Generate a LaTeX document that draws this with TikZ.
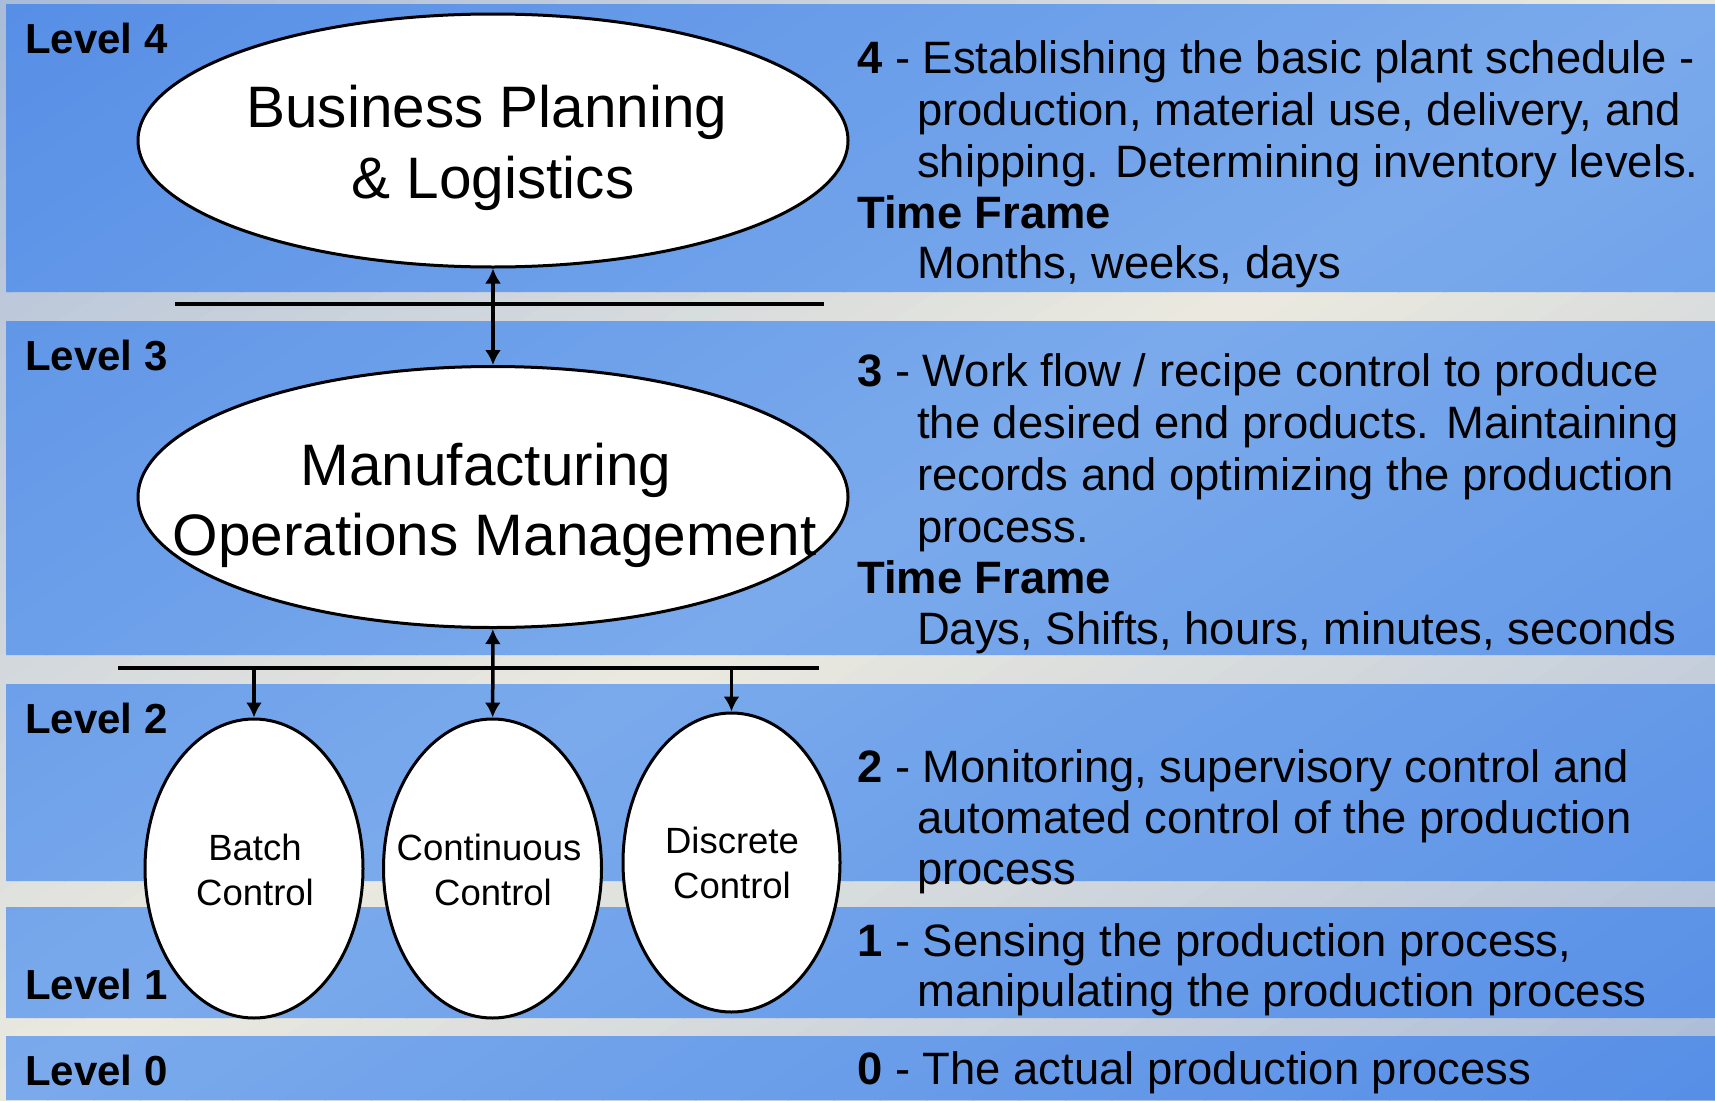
\documentclass[tikz,border=0pt]{standalone}
\usepackage{fontspec}
\setmainfont{Liberation Sans}
\usetikzlibrary{shapes.geometric,arrows.meta}
\definecolor{bgA}{HTML}{A8BAD8}
\definecolor{bgB}{HTML}{ECEADF}
\definecolor{bandA}{HTML}{568EE6}
\definecolor{bandB}{HTML}{7AAAEC}
\begin{document}
\begin{tikzpicture}[x=1pt,y=-1pt,
  lvl/.style={font=\fontsize{42}{45}\selectfont\bfseries, anchor=base west, inner sep=0},
  desc/.style={font=\fontsize{45.4}{52}\selectfont, anchor=base west, inner sep=0},
  big/.style={font=\fontsize{58.5}{70}\selectfont, anchor=base, inner sep=0},
  small/.style={font=\fontsize{36.5}{45}\selectfont, anchor=base, inner sep=0},
  oval/.style={ellipse, draw=black, line width=3pt, fill=white, inner sep=0},
  bus/.style={line width=4pt},
  conn/.style={line width=3.5pt, -{Latex[length=15pt,width=16pt]}},
  conn2/.style={line width=3.5pt, {Latex[length=15pt,width=16pt]}-{Latex[length=15pt,width=16pt]}}
]
\useasboundingbox (0,0) rectangle (1715,1100);
% background gradient (strips)
\begin{scope}
\clip (0,0) rectangle (1715,1100);
\begin{scope}[transform canvas={rotate around={32.7:(857.5,550)}}]
\foreach \i in {0,...,75} {
  \pgfmathsetmacro{\p}{100*(1-abs(2*(\i+0.5)/76-1))}
  \fill[bgB!\p!bgA] (-192.5,-400+\i*25) rectangle (1907.5,-374+\i*25);
}
\end{scope}
\end{scope}
% bands
\begin{scope}
\clip (6,4) rectangle (1715,292) (6,321) rectangle (1715,655) (6,684) rectangle (1715,881) (6,907) rectangle (1715,1018) (6,1036) rectangle (1715,1100);
\begin{scope}[transform canvas={rotate around={32.7:(857.5,550)}}]
\foreach \i in {0,...,75} {
  \pgfmathsetmacro{\p}{100*(1-abs(2*(\i+0.5)/76-1))}
  \fill[bandB!\p!bandA] (-192.5,-400+\i*25) rectangle (1907.5,-374+\i*25);
}
\end{scope}
\end{scope}

% buses
\coordinate (b1l) at (175,304);
\coordinate (b1r) at (824,304);
\coordinate (b2l) at (118,668);
\coordinate (b2r) at (819,668);
\draw[bus] (b1l) -- (b1r);
\draw[bus] (b2l) -- (b2r);

% ellipses
\node[oval, minimum width=710, minimum height=253] (bpl) at (493,140.5) {};
\node[oval, minimum width=710, minimum height=261] (mom) at (493,497) {};
\node[oval, minimum width=218, minimum height=299] (batch) at (254,868.5) {};
\node[oval, minimum width=218, minimum height=299] (cont) at (492.5,868.5) {};
\node[oval, minimum width=217, minimum height=299] (disc) at (731.5,862.5) {};

% connectors
\draw[conn2] (bpl) -- (mom);
\draw[conn2] (mom) -- (cont);
\draw[conn] (batch |- b2l) -- (batch);
\draw[conn] (disc |- b2l) -- (disc);

% ellipse texts
\node[big] (bpl1) at (487,127) {Business Planning};
\node[big] (bpl2) at (493,198) {\& Logistics};
\node[big] (mom1) at (486,485) {Manufacturing};
\node[big] (mom2) at (494.5,555) {Operations Management};
\node[small] (bat1) at (255,860) {Batch};
\node[small] (bat2) at (255,905) {Control};
\node[small] (con1) at (489,860) {Continuous};
\node[small] (con2) at (493,905) {Control};
\node[small] (dis1) at (732,853) {Discrete};
\node[small] (dis2) at (732,898) {Control};

% level labels
\node[lvl] (l4) at (25,53) {Level 4};
\node[lvl] (l3) at (25,370) {Level 3};
\node[lvl] (l2) at (25,733) {Level 2};
\node[lvl] (l1) at (25,999) {Level 1};
\node[lvl] (l0) at (25,1085) {Level 0};

% descriptions
\node[desc] (d4a) at (857,73) {\textbf{4} - Establishing the basic plant schedule -};
\node[desc] (d4b) at (917,125) {production, material use, delivery, and};
\node[desc] (d4c) at (917,177) {shipping. Determining inventory levels.};
\node[desc] (d4d) at (857,228) {\textbf{Time Frame}};
\node[desc] (d4e) at (917,278) {Months, weeks, days};
\node[desc] (d3a) at (857,386) {\textbf{3} - Work flow / recipe control to produce};
\node[desc] (d3b) at (917,438) {the desired end products. Maintaining};
\node[desc] (d3c) at (917,490) {records and optimizing the production};
\node[desc] (d3d) at (917,542) {process.};
\node[desc] (d3e) at (857,593) {\textbf{Time Frame}};
\node[desc] (d3f) at (917,644) {Days, Shifts, hours, minutes, seconds};
\node[desc] (d2a) at (857,782) {\textbf{2} - Monitoring, supervisory control and};
\node[desc] (d2b) at (917,833) {automated control of the production};
\node[desc] (d2c) at (917,884) {process};
\node[desc] (d1a) at (857,956) {\textbf{1} - Sensing the production process,};
\node[desc] (d1b) at (917,1006) {manipulating the production process};
\node[desc] (d0a) at (857,1084) {\textbf{0} - The actual production process};
\end{tikzpicture}
\end{document}
